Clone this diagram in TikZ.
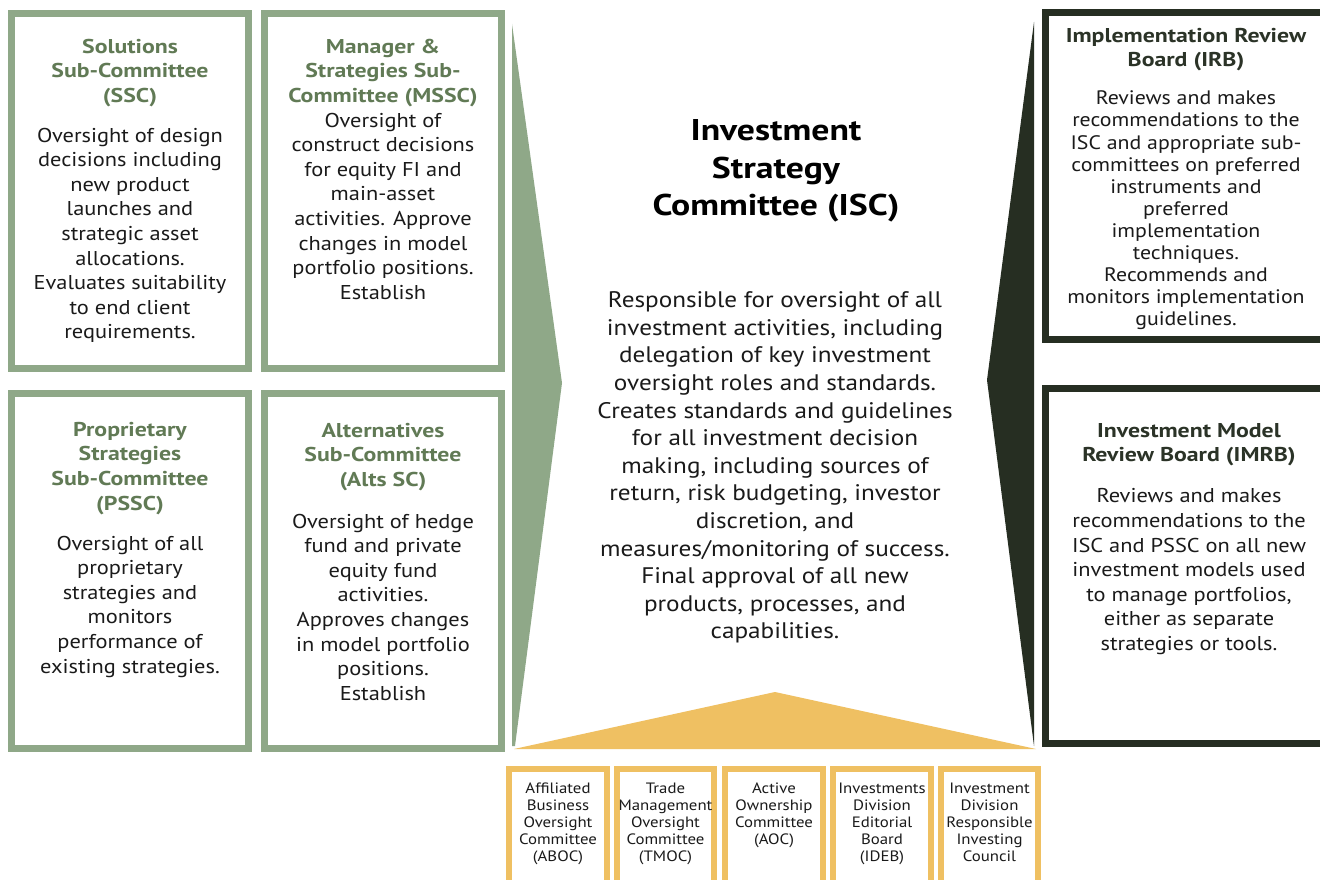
\documentclass[tikz,border=0pt]{standalone}
\usepackage{fontspec}
\setmainfont{PT Sans}[FakeStretch=1.12]
\newfontfamily\ttlfont{PT Sans}[FakeStretch=1.19]
\definecolor{sage}{HTML}{8FA888}
\definecolor{sagetext}{HTML}{617A55}
\definecolor{darkg}{HTML}{262E22}
\definecolor{darktext}{HTML}{2B3327}
\definecolor{gold}{HTML}{EFC062}
\definecolor{bodytext}{HTML}{1A1A1A}
\tikzset{
  sagebox/.style={draw=sage, line width=7pt},
  darkbox/.style={draw=darkg, line width=7pt},
  goldbox/.style={draw=gold, line width=6pt},
  txt/.style={anchor=north, inner sep=0pt, align=center, text=bodytext},
  sagetitle/.style={txt, text=sagetext, font=\ttlfont\bfseries\fontsize{20}{24.8}\selectfont},
  sagebody/.style={txt, font=\fontsize{20}{24.6}\selectfont},
  darktitle/.style={txt, text=darktext, font=\ttlfont\bfseries\fontsize{20}{24}\selectfont},
  smalltxt/.style={txt, font=\fontsize{15}{17}\selectfont},
}
\begin{document}
\begin{tikzpicture}[x=1pt,y=-1pt]
\useasboundingbox (0,0) rectangle (1320,880);
\clip (0,0) rectangle (1320,880);
\fill[white] (0,0) rectangle (1320,880);

% left sage boxes
\draw[sagebox] (11.5,13.5) rectangle (248.5,368.5);
\draw[sagebox] (264.5,13.5) rectangle (501.5,368.5);
\draw[sagebox] (11.5,393.5) rectangle (248.5,748.5);
\draw[sagebox] (264.5,393.5) rectangle (501.5,748.5);

% chevrons
\fill[sage] (512,24) -- (562,383) -- (515,746) -- (512,746) -- cycle;
\fill[darkg] (1034,22) -- (987,380) -- (1034,746) -- cycle;
\fill[gold] (775,692) -- (1036,749) -- (514,749) -- cycle;

% right dark boxes
\draw[darkbox] (1045.5,12.5) rectangle (1345,339.5);
\draw[darkbox] (1045.5,388.5) rectangle (1345,743.5);

% gold boxes
\draw[goldbox] (509,769) rectangle (607,890);
\draw[goldbox] (617,769) rectangle (714,890);
\draw[goldbox] (725,769) rectangle (823,890);
\draw[goldbox] (833,769) rectangle (931,890);
\draw[goldbox] (941,769) rectangle (1038,890);

% SSC
\node[sagetitle] (ssct) at (130,38.6) {Solutions\\Sub-Committee\\(SSC)};
\node[sagebody] (sscb) at (130,127.6) {Oversight of design\\decisions including\\new product\\launches and\\strategic asset\\allocations.\\Evaluates suitability\\to end client\\requirements.};
% MSSC
\node[sagetitle] (mssct) at (383,38.6) {Manager \&\\Strategies Sub-\\Committee (MSSC)};
\node[sagebody] (msscb) at (383,112.6) {Oversight of\\construct decisions\\for equity FI and\\main-asset\\activities. Approve\\changes in model\\portfolio positions.\\Establish};
% PSSC
\node[sagetitle] (pssct) at (130,421.6) {Proprietary\\Strategies\\Sub-Committee\\(PSSC)};
\node[sagebody] (psscb) at (130,535.6) {Oversight of all\\proprietary\\strategies and\\monitors\\performance of\\existing strategies.};
% Alts
\node[sagetitle] (altst) at (383,422.6) {Alternatives\\Sub-Committee\\(Alts SC)};
\node[sagebody] (altsb) at (383,513.6) {Oversight of hedge\\fund and private\\equity fund\\activities.\\Approves changes\\in model portfolio\\positions.\\Establish};

% ISC
\node[txt, text=black, font=\ttlfont\bfseries\fontsize{30}{37.5}\selectfont] (isct) at (776,119.4) {Investment\\Strategy\\Committee (ISC)};
\node[txt, font=\fontsize{22.5}{27.6}\selectfont] (iscb) at (775,291.5) {Responsible for oversight of all\\investment activities, including\\delegation of key investment\\oversight roles and standards.\\Creates standards and guidelines\\for all investment decision\\making, including sources of\\return, risk budgeting, investor\\discretion, and\\measures/monitoring of success.\\Final approval of all new\\products, processes, and\\capabilities.};

% IRB
\node[darktitle] (irbt) at (1186,27.6) {Implementation Review\\Board (IRB)};
\node[txt, font=\fontsize{19.5}{22.1}\selectfont] (irbb) at (1186,90.8) {Reviews and makes\\recommendations to the\\ISC and appropriate sub-\\committees on preferred\\instruments and\\preferred\\implementation\\techniques.\\Recommends and\\monitors implementation\\guidelines.};
% IMRB
\node[darktitle] (imrbt) at (1189,423.6) {Investment Model\\Review Board (IMRB)};
\node[sagebody] (imrbb) at (1189,488.6) {Reviews and makes\\recommendations to the\\ISC and PSSC on all new\\investment models used\\to manage portfolios,\\either as separate\\strategies or tools.};

% gold box texts
\node[smalltxt] (aboc) at (558,782.7) {Affiliated\\Business\\Oversight\\Committee\\(ABOC)};
\node[smalltxt] (tmoc) at (665.5,782.7) {Trade\\Management\\Oversight\\Committee\\(TMOC)};
\node[smalltxt] (aoc) at (774,782.7) {Active\\Ownership\\Committee\\(AOC)};
\node[smalltxt] (ideb) at (882,782.7) {Investments\\Division\\Editorial\\Board\\(IDEB)};
\node[smalltxt] (idric) at (989.5,782.7) {Investment\\Division\\Responsible\\Investing\\Council};
\end{tikzpicture}
\end{document}
